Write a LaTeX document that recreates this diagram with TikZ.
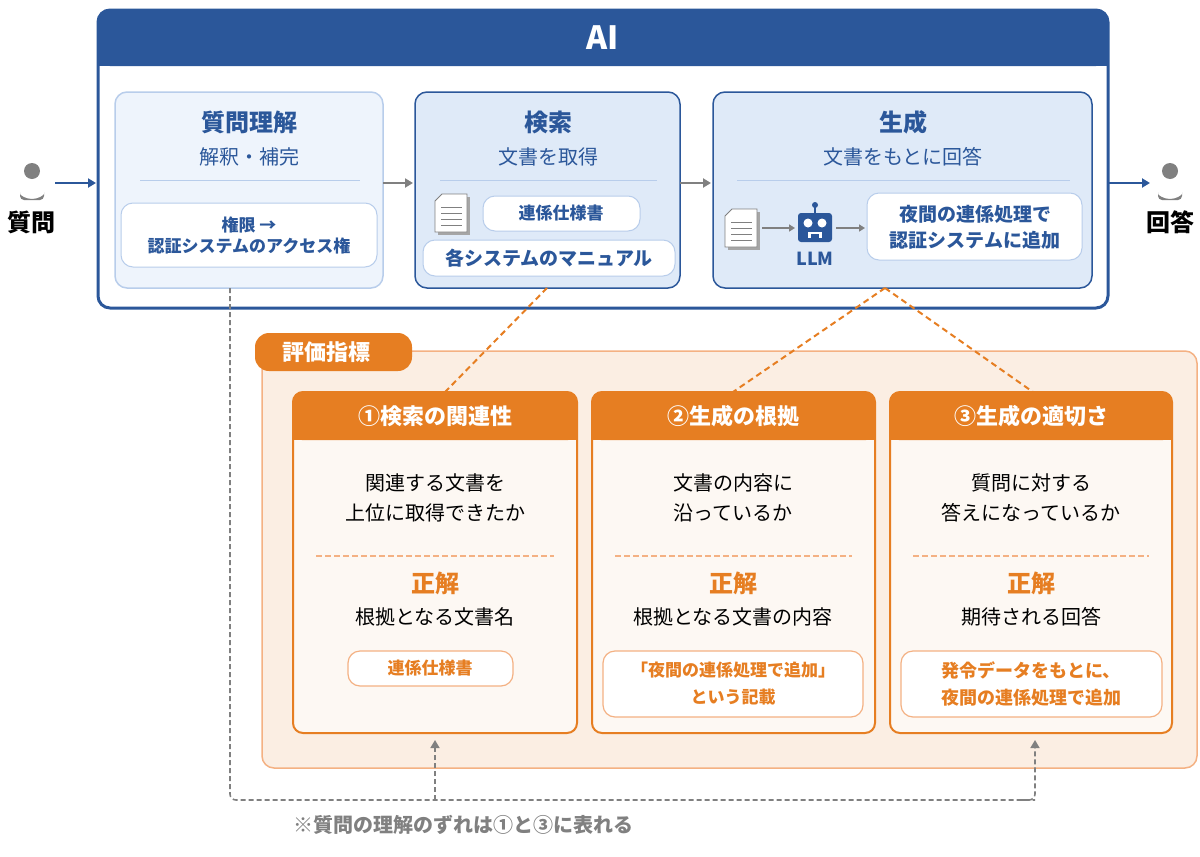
\documentclass[tikz,border=0pt]{standalone}
\usepackage{fontspec}
\setmainfont{Noto Sans CJK JP}
\usetikzlibrary{arrows.meta}
\definecolor{dblue}{HTML}{2B579A}
\definecolor{lblue}{HTML}{DFEAF8}
\definecolor{llblue}{HTML}{EEF4FC}
\definecolor{bline}{HTML}{B8CDEB}
\definecolor{org}{HTML}{E67E22}
\definecolor{lorg}{HTML}{F4B183}
\definecolor{porg}{HTML}{FBEEE3}
\definecolor{corg}{HTML}{FDF8F3}
\definecolor{gr}{HTML}{808080}
\begin{document}
\begin{tikzpicture}[x=1pt,y=-1pt,
 stage/.style={draw=dblue,line width=1.5pt,fill=lblue,rounded corners=12pt},
 pill/.style={draw=bline,line width=1pt,fill=white,rounded corners=12pt},
 ttl/.style={font=\fontsize{24}{26}\selectfont\bfseries,text=dblue},
 sub/.style={font=\fontsize{20}{22}\selectfont,text=dblue},
 sm/.style={font=\fontsize{17}{21}\selectfont\bfseries,text=dblue,align=center},
 card/.style={draw=org,line width=2pt,fill=corg,rounded corners=10pt},
 body/.style={font=\fontsize{20}{30}\selectfont,align=center},
 opill/.style={draw=lorg,line width=1.2pt,fill=white,rounded corners=12pt},
 osm/.style={font=\fontsize{17}{27}\selectfont\bfseries,text=org,align=center},
 garr/.style={-{Triangle[length=8pt,width=9pt]},gr,line width=2pt},
 barr/.style={-{Triangle[length=8pt,width=9pt]},dblue,line width=2pt},
 odash/.style={org,line width=2pt,dash pattern=on 6pt off 4pt},
 gdash/.style={gr,line width=1.6pt,dash pattern=on 5pt off 3pt}]
\useasboundingbox (0,0) rectangle (1200,857);
% AI frame
\draw[dblue,line width=3pt,fill=white,rounded corners=12pt] (98,10) rectangle (1108,308);
\fill[dblue,rounded corners=12pt] (98,10) rectangle (1108,66);
\fill[dblue] (98,40) rectangle (1108,66);
\node[text=white,font=\fontsize{32}{34}\selectfont\bfseries] (ai) at (603,38) {AI};
% box1
\draw[draw=bline,line width=1.5pt,fill=llblue,rounded corners=12pt] (115,92) rectangle (383,288);
\coordinate (b1r) at (383,183); \coordinate (b1b) at (230,288);
\node[ttl] (t1) at (249,122) {質問理解};
\node[sub] (s1) at (249,157) {解釈・補完};
\draw[bline,line width=1pt] (140,180) -- (360,180);
\draw[pill] (121,203) rectangle (377,267);
\node[sm] (p1) at (249,235) {権限 →\\認証システムのアクセス権};
% box2
\draw[stage] (415,92) rectangle (680,288);
\coordinate (b2l) at (413,183); \coordinate (b2r) at (680,183); \coordinate (b2b) at (547,288);
\node[ttl] (t2) at (548,122) {検索};
\node[sub] (s2) at (548,157) {文書を取得};
\draw[bline,line width=1pt] (440,180) -- (657,180);
\draw[pill] (483,196) rectangle (640,231);
\node[sm] (p2) at (561,213) {連係仕様書};
\draw[pill] (423,240) rectangle (675,276);
\node[sm,font=\fontsize{19}{21}\selectfont\bfseries] (p3) at (549,258) {各システムのマニュアル};
\begin{scope}[shift={(452,213)}]
\fill[gr!70] (-14,-16) rectangle (18,22);
\draw[gr,fill=white,line width=0.8pt] (-17,-12) -- (-10,-19) -- (15,-19) -- (15,19) -- (-17,19) -- cycle;
\foreach \yy in {-6,0,6,12} \draw[gr,line width=1pt] (-11,\yy) -- (10,\yy);
\end{scope}
% box3
\draw[stage] (713,92) rectangle (1092,288);
\coordinate (b3l) at (711,183); \coordinate (b3b) at (885,288);
\node[ttl] (t3) at (903,122) {生成};
\node[sub] (s3) at (903,157) {文書をもとに回答};
\draw[bline,line width=1pt] (737,180) -- (1070,180);
\begin{scope}[shift={(742,228)}]
\fill[gr!70] (-14,-16) rectangle (18,22);
\draw[gr,fill=white,line width=0.8pt] (-17,-12) -- (-10,-19) -- (15,-19) -- (15,19) -- (-17,19) -- cycle;
\foreach \yy in {-6,0,6,12} \draw[gr,line width=1pt] (-11,\yy) -- (10,\yy);
\end{scope}
\coordinate (d3r) at (762,228); \coordinate (rl) at (795,228);
\coordinate (rr) at (836,228); \coordinate (ansl) at (865,228);
\begin{scope}[shift={(815,226)}]
\fill[dblue] (0,-20) -- (0,-14);
\draw[dblue,line width=1.5pt] (0,-20) -- (0,-13);
\fill[dblue] (0,-21) circle (3);
\fill[dblue,rounded corners=3pt] (-17,-13) rectangle (17,16);
\fill[white] (-7,-3) circle (4.5) (7,-3) circle (4.5);
\fill[white] (-7,6) rectangle (7,12);
\fill[dblue] (-4,8) rectangle (4,16);
\end{scope}
\node[font=\fontsize{18}{20}\selectfont\bfseries,text=dblue] (llm) at (815,259) {LLM};
\draw[pill] (867,193) rectangle (1082,260);
\node[sm,font=\fontsize{19}{26}\selectfont\bfseries] (p4) at (975,227) {夜間の連係処理で\\認証システムに追加};
\draw[-{Triangle[length=6pt,width=7pt]},gr,line width=1.5pt] (d3r) -- (rl);
\draw[-{Triangle[length=6pt,width=7pt]},gr,line width=1.5pt] (rr) -- (ansl);
% inter arrows
\draw[garr] (b1r) -- (b2l);
\draw[garr] (b2r) -- (b3l);
% persons
\foreach \px/\nm in {32/q,1170/a}{
 \fill[gr] (\px,171) circle (8);
 \fill[gr,rounded corners=4pt] (\px-12,200) -- (\px-12,190) arc(180:0:12 and 9) -- (\px+12,200) -- cycle;
}
\coordinate (qr) at (55,183); \coordinate (aif) at (96,183);
\coordinate (aor) at (1108,183); \coordinate (al) at (1150,183);
\node[font=\fontsize{24}{26}\selectfont\bfseries] (qlab) at (32,222) {質問};
\node[font=\fontsize{24}{26}\selectfont\bfseries] (alab) at (1170,222) {回答};
\draw[barr] (qr) -- (aif);
\draw[barr] (aor) -- (al);
% evaluation area
\draw[draw=lorg,line width=1.5pt,fill=porg,rounded corners=12pt] (262,351) rectangle (1197,768);
\fill[org,rounded corners=14pt] (255,333) rectangle (412,371);
\node[text=white,font=\fontsize{22}{24}\selectfont\bfseries] (tag) at (326,352) {評価指標};
% cards
\foreach \cx/\cw/\nm in {293/284/c1,592/283/c2,890/282/c3}{
 \draw[card] (\cx,392) rectangle (\cx+\cw,733);
 \fill[org,rounded corners=9pt] (\cx,392) rectangle (\cx+\cw,440);
 \fill[org] (\cx,420) rectangle (\cx+\cw,440);
 \draw[lorg,line width=1.5pt,dash pattern=on 6pt off 3pt] (\cx+23,556) -- (\cx+\cw-23,556);
 \node[osm,font=\fontsize{24}{26}\selectfont\bfseries] (\nm ok) at (\cx+\cw/2,583) {正解};
}
\coordinate (c1t) at (445,392); \coordinate (c2t) at (733,392); \coordinate (c3t) at (1033,392);
\node[text=white,font=\fontsize{22}{24}\selectfont\bfseries] (h1) at (435,416) {①検索の関連性};
\node[text=white,font=\fontsize{22}{24}\selectfont\bfseries] (h2) at (733,416) {②生成の根拠};
\node[text=white,font=\fontsize{22}{24}\selectfont\bfseries] (h3) at (1031,416) {③生成の適切さ};
\node[body] (q1) at (435,498) {関連する文書を\\上位に取得できたか};
\node[body] (q2) at (733,498) {文書の内容に\\沿っているか};
\node[body] (q3) at (1031,498) {質問に対する\\答えになっているか};
\node[body] (a1) at (435,617) {根拠となる文書名};
\node[body] (a2) at (733,617) {根拠となる文書の内容};
\node[body] (a3) at (1031,617) {期待される回答};
\draw[opill] (348,651) rectangle (513,686);
\node[osm] (e1) at (430,668) {連係仕様書};
\draw[opill] (603,651) rectangle (863,717);
\node[osm] (e2) at (733,684) {「夜間の連係処理で追加」\\という記載};
\draw[opill] (901,651) rectangle (1162,717);
\node[osm,font=\fontsize{18}{27}\selectfont\bfseries] (e3) at (1031,684) {発令データをもとに、\\夜間の連係処理で追加};
% orange dashed
\draw[odash] (b2b) -- (c1t);
\draw[odash] (b3b) -- (c2t);
\draw[odash] (b3b) -- (c3t);
% gray dashed feedback
\coordinate (f1) at (435,740); \coordinate (f3) at (1035,740);
\draw[gdash,rounded corners=6pt] (b1b) -- (230,800) -- (1035,800);
\draw[gdash,-{Triangle[length=8pt,width=9pt]},rounded corners=6pt] (1020,800) -- (1035,800) -- (f3);
\draw[gdash,-{Triangle[length=8pt,width=9pt]}] (435,800) -- (f1);
\node[text=gr,font=\fontsize{20}{22}\selectfont\bfseries] (note) at (463,825) {※質問の理解のずれは①と③に表れる};
\end{tikzpicture}
\end{document}
